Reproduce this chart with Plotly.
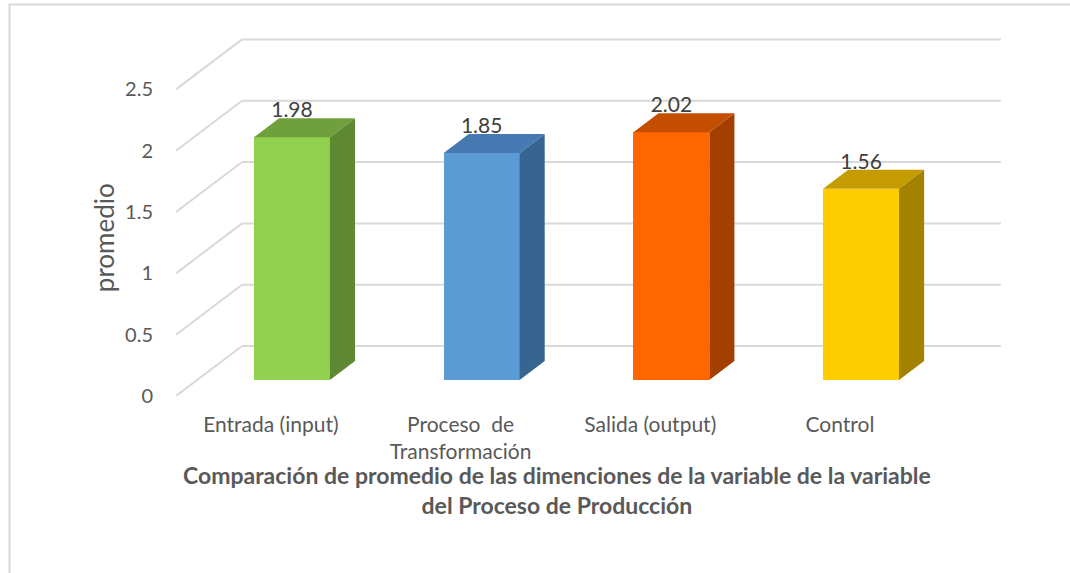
import plotly.graph_objects as go

# Chart data
categories = ["Entrada (input)", "Proceso  de<br>Transformación", "Salida (output)", "Control"]
values = [1.98, 1.85, 2.02, 1.56]
value_labels = ["1.98", "1.85", "2.02", "1.56"]
y_ticks = [0, 0.5, 1, 1.5, 2, 2.5]
y_tick_labels = ["0", "0.5", "1", "1.5", "2", "2.5"]

front_colors = ["#92D050", "#5B9BD5", "#FF6600", "#FFCC00"]
top_colors = ["#70A03B", "#4679B2", "#C44E00", "#C49C00"]
side_colors = ["#5E8831", "#376592", "#A33F00", "#A38200"]

# Pseudo-3D geometry (in axis units): depth of the floor and bar placement
DX = 0.348          # horizontal shift of the back wall, in category units
DY = 0.407          # vertical shift of the back wall, in value units
BAR_FRONT = 0.32    # bar front face depth (fraction of floor depth)
BAR_BACK = 0.70     # bar back face depth
BAR_W = 0.40        # bar width, in category units

X_MIN, X_MAX = -0.5, 3.87
Y_MIN, Y_MAX = 0.0, 3.0

FONT = "Lato"
TEXT = "#595959"

fig = go.Figure()

# Walls: left side diagonals and back-wall gridlines (drawn beneath the bars)
grid_color = "#D9D9D9"
shapes = []
for t in y_ticks:
    shapes.append(dict(type="line", xref="x", yref="y", layer="below",
                       x0=-0.5, y0=t, x1=-0.5 + DX, y1=t + DY,
                       line=dict(color=grid_color, width=2)))
    shapes.append(dict(type="line", xref="x", yref="y", layer="below",
                       x0=-0.5 + DX, y0=t + DY, x1=3.5 + DX, y1=t + DY,
                       line=dict(color=grid_color, width=2)))

# Outer chart frame
shapes.append(dict(type="rect", xref="paper", yref="paper",
                   x0=(9.5 - 176) / 829, x1=2, y0=-2, y1=(396 - 4) / 368.4,
                   line=dict(color="#D9D9D9", width=2), layer="below"))

# Bars: front faces as bars, top and side faces as filled polygons
fx0 = BAR_FRONT * DX
fy0 = BAR_FRONT * DY
ddx = (BAR_BACK - BAR_FRONT) * DX
ddy = (BAR_BACK - BAR_FRONT) * DY

fig.add_trace(go.Bar(
    x=[i + fx0 for i in range(len(values))], y=values, base=fy0,
    width=BAR_W, marker=dict(color=front_colors, line=dict(width=0)),
    showlegend=False, hoverinfo="skip"))

for i, v in enumerate(values):
    left = i + fx0 - BAR_W / 2
    right = i + fx0 + BAR_W / 2
    top = v + fy0
    # side face
    fig.add_trace(go.Scatter(
        x=[right, right + ddx, right + ddx, right, right],
        y=[fy0, fy0 + ddy, top + ddy, top, fy0],
        mode="lines", fill="toself", fillcolor=side_colors[i],
        line=dict(width=0, color=side_colors[i]),
        hoverinfo="skip", showlegend=False))
    # top face
    fig.add_trace(go.Scatter(
        x=[left, right, right + ddx, left + ddx, left],
        y=[top, top, top + ddy, top + ddy, top],
        mode="lines", fill="toself", fillcolor=top_colors[i],
        line=dict(width=0, color=top_colors[i]),
        hoverinfo="skip", showlegend=False))

# Value labels above each bar
fig.add_trace(go.Scatter(
    x=[i + fx0 for i in range(len(values))],
    y=[v + fy0 + 0.205 for v in values],
    mode="text", text=value_labels, textposition="middle center",
    textfont=dict(family=FONT, size=21, color="#404040"),
    hoverinfo="skip", showlegend=False))

fig.update_layout(
    width=1070, height=573,
    margin=dict(l=176, r=65, t=27.6, b=177),
    paper_bgcolor="white", plot_bgcolor="white",
    bargap=0,
    font=dict(family=FONT, color=TEXT),
    xaxis=dict(
        range=[X_MIN, X_MAX], tickvals=list(range(len(categories))),
        ticktext=categories, showgrid=False, zeroline=False, showline=False,
        ticks="", ticklabelstandoff=14,
        tickfont=dict(family=FONT, size=21, color=TEXT)),
    yaxis=dict(
        range=[Y_MIN, Y_MAX], tickvals=y_ticks, ticktext=y_tick_labels,
        showgrid=False, zeroline=False, showline=False, ticks="",
        ticklabelstandoff=22,
        tickfont=dict(family=FONT, size=20, color=TEXT)),
    annotations=[
        dict(text="promedio", textangle=-90, xref="paper", yref="paper",
             x=0, xshift=-72, y=(396 - 238) / 368.4, showarrow=False,
             xanchor="center", yanchor="middle",
             font=dict(family=FONT, size=26, color=TEXT)),
        dict(text="<b>Comparación de promedio de las dimenciones de la variable de la variable</b><br>"
                  "<b>del Proceso de Producción</b>",
             xref="paper", yref="paper",
             x=(557 - 176) / 829, y=(396 - 490) / 368.4, showarrow=False,
             xanchor="center", yanchor="middle", align="center",
             font=dict(family=FONT, size=23, color=TEXT)),
    ],
    shapes=shapes,
)

fig.write_html("out.html")
